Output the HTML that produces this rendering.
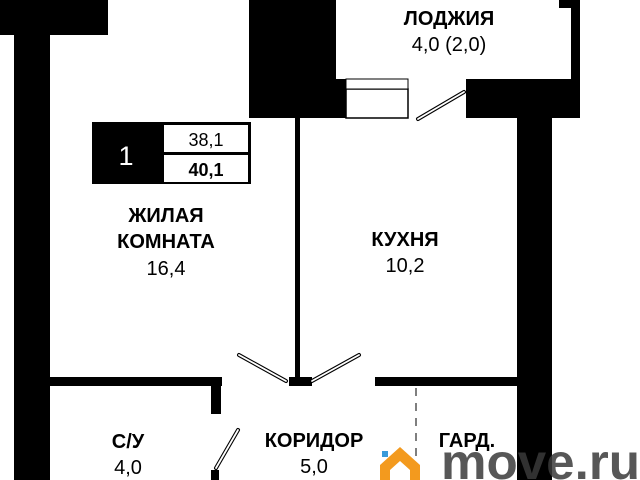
<!DOCTYPE html>
<html><head><meta charset="utf-8"><style>
html,body{margin:0;padding:0;background:#fff;width:640px;height:480px;overflow:hidden}
svg{display:block;overflow:hidden}
svg text{font-family:"Liberation Sans",sans-serif}
</style></head><body>
<svg width="640" height="480" viewBox="0 0 640 480" xmlns="http://www.w3.org/2000/svg">
<g fill="#000">
<rect x="0" y="0" width="108" height="35"/>
<rect x="14" y="0" width="36" height="480"/>
<rect x="249" y="0" width="87" height="118"/>
<rect x="295" y="118" width="5" height="260"/>
<rect x="336" y="79" width="10" height="39"/>
<rect x="466" y="79" width="114" height="39"/>
<rect x="559" y="0" width="21" height="8"/>
<rect x="571" y="0" width="9" height="118"/>
<rect x="517" y="118" width="35" height="362"/>
<rect x="50" y="377" width="172" height="9"/>
<rect x="211" y="386" width="10" height="28"/>
<rect x="375" y="377" width="142" height="9"/>
<rect x="289" y="377" width="23" height="9"/>
<rect x="211" y="470" width="8" height="10"/>
</g>
<rect x="346" y="89" width="62" height="29" fill="#fff" stroke="#000" stroke-width="1.5"/>
<rect x="346" y="79" width="62" height="10" fill="#fff" stroke="#000" stroke-width="1"/>
<g stroke="#000" stroke-width="4" stroke-linecap="round"><line x1="418" y1="119" x2="464" y2="92"/><line x1="239" y1="355" x2="286" y2="381"/><line x1="312" y1="381" x2="359" y2="355"/><line x1="238" y1="430" x2="216" y2="468"/></g>
<g stroke="#fff" stroke-width="1.8" stroke-linecap="round"><line x1="418" y1="119" x2="464" y2="92"/><line x1="239" y1="355" x2="286" y2="381"/><line x1="312" y1="381" x2="359" y2="355"/><line x1="238" y1="430" x2="216" y2="468"/></g>
<line x1="416" y1="388" x2="416" y2="480" stroke="#555" stroke-width="1.5" stroke-dasharray="8,7"/>
<rect x="92" y="122" width="159" height="62" fill="#000"/>
<rect x="164" y="125" width="84" height="27" fill="#fff"/>
<rect x="164" y="155" width="84" height="27" fill="#fff"/>
<text x="126" y="165" fill="#fff" font-size="27" text-anchor="middle">1</text>
<text x="206" y="146" font-size="18" text-anchor="middle">38,1</text>
<text x="206" y="176" font-size="18" font-weight="bold" text-anchor="middle">40,1</text>
<g font-size="20" text-anchor="middle">
<text x="449" y="25" font-weight="bold">ЛОДЖИЯ</text>
<text x="449" y="51">4,0 (2,0)</text>
<text x="166" y="222" font-weight="bold">ЖИЛАЯ</text>
<text x="166" y="248" font-weight="bold">КОМНАТА</text>
<text x="166" y="275">16,4</text>
<text x="405" y="246" font-weight="bold">КУХНЯ</text>
<text x="405" y="272">10,2</text>
<text x="128" y="448" font-weight="bold">С/У</text>
<text x="128" y="474">4,0</text>
<text x="314" y="447" font-weight="bold">КОРИДОР</text>
<text x="314" y="473">5,0</text>
<text x="467" y="447" font-weight="bold">ГАРД.</text>
</g>
<path d="M380 465 L400 447 L420 465 L420 480 L410 480 L410 470 L400 461 L390 470 L390 480 L380 480 Z" fill="#f39a1e"/>
<rect x="382" y="451" width="6" height="6" fill="#3a9ad9"/>
<text x="441" y="479" font-size="50" font-weight="bold" fill="#3a3a3a" fill-opacity="0.85" textLength="199" lengthAdjust="spacingAndGlyphs">move.ru</text>
</svg>
</body></html>
